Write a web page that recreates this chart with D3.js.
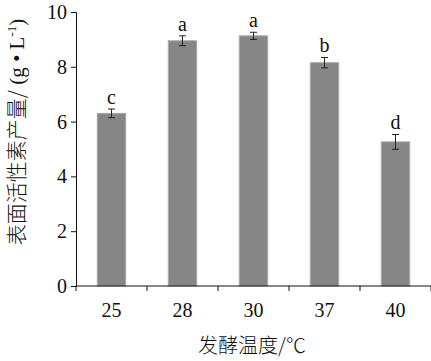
<!DOCTYPE html>
<html><head><meta charset="utf-8">
<script src="https://cdn.jsdelivr.net/npm/d3@7"></script>
<style>body{margin:0;background:#fff}svg{display:block}</style>
</head><body>
<script>
const categories = ["25","28","30","37","40"];
const values = [6.3, 8.95, 9.13, 8.15, 5.26];
const errors = [0.16, 0.18, 0.13, 0.19, 0.27];
const letters = ["c","a","a","b","d"];
const yTicks = [0,2,4,6,8,10];

const W=431,H=361;
const svg=d3.select("body").append("svg").attr("width",W).attr("height",H);
const x=d3.scaleBand().domain(categories).range([76,431]).paddingInner(0.6).paddingOuter(0.3);
const y=d3.scaleLinear().domain([0,10]).range([286,12]);
const serif='"Liberation Serif","Times New Roman",serif';

svg.selectAll("rect.bar").data(values).join("rect")
  .attr("x",(d,i)=>x(categories[i])).attr("width",x.bandwidth())
  .attr("y",d=>y(d)).attr("height",d=>y(0)-y(d))
  .attr("fill","#868686").attr("stroke","#a8a8a8").attr("stroke-width",1);

const eb=svg.append("g").attr("stroke","#222").attr("stroke-width",1);
values.forEach((v,i)=>{
  const cx=x(categories[i])+x.bandwidth()/2;
  eb.append("line").attr("x1",cx).attr("x2",cx).attr("y1",y(v+errors[i])).attr("y2",y(v-errors[i]));
  eb.append("line").attr("x1",cx-3.5).attr("x2",cx+3.5).attr("y1",y(v+errors[i])).attr("y2",y(v+errors[i]));
  eb.append("line").attr("x1",cx-3.5).attr("x2",cx+3.5).attr("y1",y(v-errors[i])).attr("y2",y(v-errors[i]));
  svg.append("text").attr("x",cx).attr("y",y(v+errors[i])-5).attr("text-anchor","middle")
    .attr("font-family",serif).attr("font-size",20).attr("fill","#111").text(letters[i]);
});

const ya=svg.append("g").attr("transform","translate(76,0)")
  .call(d3.axisLeft(y).tickValues(yTicks).tickSize(5).tickPadding(4).tickFormat(d3.format("d")));
ya.selectAll("text").attr("font-family",serif).attr("font-size",20).attr("fill","#111");
ya.selectAll("line,path").attr("stroke","#111");

// x axis with ticks at band boundaries
const xs=d3.scaleLinear().domain([0,5]).range([76,431]);
const xa=svg.append("g").attr("transform","translate(0,286)");
xa.append("line").attr("x1",76).attr("x2",431).attr("stroke","#111");
xa.selectAll("line.t").data(d3.range(0,6)).join("line").attr("class","t")
  .attr("x1",d=>xs(d)).attr("x2",d=>xs(d)).attr("y1",0).attr("y2",5).attr("stroke","#111");
xa.selectAll("text").data(categories).join("text")
  .attr("x",d=>x(d)+x.bandwidth()/2).attr("y",31).attr("text-anchor","middle")
  .attr("font-family",serif).attr("font-size",20).attr("fill","#111").text(d=>d);

svg.append("text").attr("x",252).attr("y",353).attr("text-anchor","middle")
  .attr("font-family",'"Noto Sans CJK SC",sans-serif').attr("font-size",20).attr("font-weight",300).attr("fill","#111")
  .text("发酵温度/℃");

const yt=svg.append("text").attr("transform","translate(24,132) rotate(-90)").attr("text-anchor","middle")
  .attr("font-family",'"Noto Sans CJK SC",sans-serif').attr("font-size",21).attr("font-weight",300).attr("fill","#111");
yt.append("tspan").text("表面活性素产量/");
yt.append("tspan").attr("font-family",serif).text(" (g • L");
yt.append("tspan").attr("font-family",serif).attr("font-size",13).attr("dy",-8).text("-1");
yt.append("tspan").attr("font-family",serif).attr("dy",8).text(")");
</script>
</body></html>
